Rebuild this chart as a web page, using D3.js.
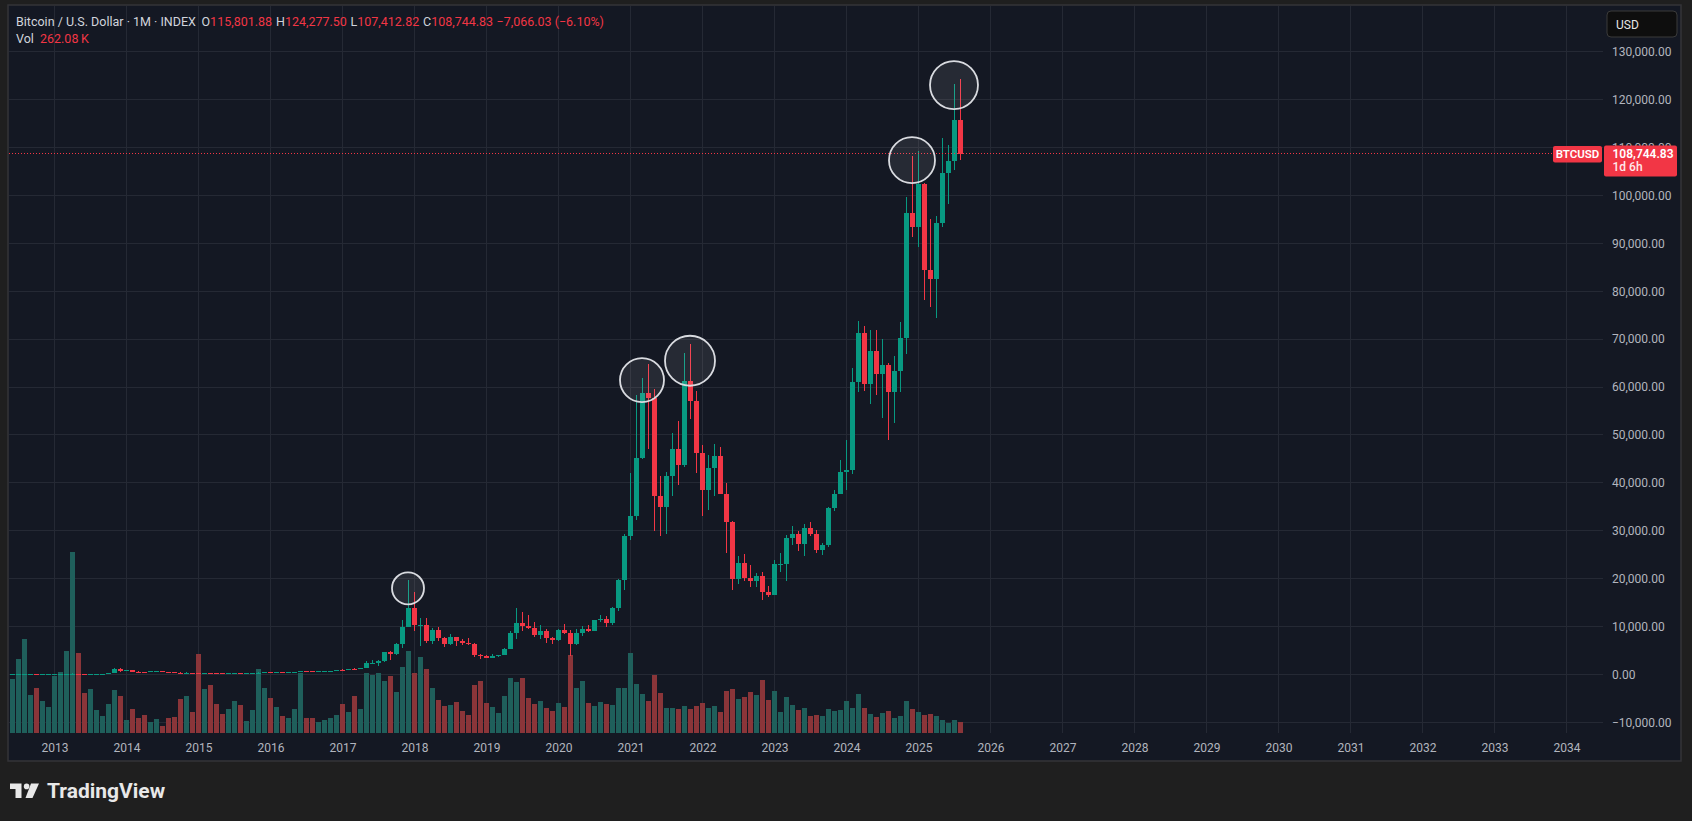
<!DOCTYPE html>
<html>
<head>
<meta charset="utf-8">
<script src="https://cdn.jsdelivr.net/npm/d3@7"></script>
<style>
html, body { margin: 0; padding: 0; background: #1f1f1f; }
svg { display: block; }
text { font-family: Roboto, "Noto Sans", sans-serif; }
</style>
</head>
<body>
<script>
// monthly candles, first bar is May 2012, last is Aug 2025
var firstBar = { year: 2012, month: 5 };

var opens = [
  4.9, 5.2, 6.7, 9.4, 10.2, 12.4, 11.2, 12.6,
  13.5, 20.4, 33.4, 93, 139, 129, 97, 106, 135, 141, 204, 1205,
  732, 815, 570, 458, 447, 628, 640, 586, 479, 388, 338, 378,
  320, 217, 254, 244, 236, 230, 263, 284, 230, 236, 314, 377,
  430, 368, 437, 416, 448, 531, 673, 624, 573, 609, 700, 742,
  964, 958, 1190, 1080, 1350, 2300, 2480, 2875, 4740, 4340, 6450, 9950,
  13880, 10230, 10330, 6930, 9240, 7500, 6400, 7730, 7020, 6630, 6370, 4040,
  3740, 3460, 3810, 4100, 5320, 8570, 10820, 10080, 9600, 8300, 9150, 7550,
  7190, 9350, 8540, 6420, 8630, 9450, 9140, 11350, 11650, 10780, 13800, 19700,
  28990, 33110, 45160, 58800, 57750, 37330, 35040, 41460, 47160, 43800, 61350, 57000,
  46200, 38490, 43180, 45540, 37700, 31800, 19940, 23300, 20050, 19430, 20490, 17170,
  16540, 23140, 23150, 28480, 29250, 27220, 30470, 29230, 25940, 26960, 34660, 37720,
  42280, 42580, 61130, 71290, 60640, 67490, 62680, 64620, 58970, 63330, 70210, 96400,
  93430, 102400, 84350, 82550, 94200, 104600, 107100, 115801.88
];

var highs = [
  5.2, 6.7, 9.7, 16.4, 12.8, 12.8, 12.9, 13.9,
  20.7, 33.4, 95.7, 266, 140, 130, 111, 140, 147, 218, 1240, 1237,
  985, 840, 715, 547, 633, 680, 660, 598, 502, 420, 458, 382,
  321, 265, 300, 260, 248, 268, 318, 285, 245, 335, 502, 469,
  461, 448, 443, 467, 549, 780, 703, 624, 616, 720, 755, 975,
  1153, 1214, 1350, 1350, 2760, 3000, 2930, 4770, 4980, 6470, 11400, 19666,
  17200, 11800, 11700, 9770, 9990, 7780, 8500, 7760, 7410, 7680, 6580, 4250,
  4100, 4200, 4140, 5600, 9090, 13880, 13130, 12320, 10950, 10370, 9510, 7750,
  9580, 10500, 9190, 9470, 10080, 10380, 11440, 12470, 12090, 14100, 19860, 29300,
  41950, 58350, 61790, 64900, 59500, 41330, 42320, 50500, 52920, 67000, 69000, 59100,
  47990, 45800, 48200, 47450, 40000, 31950, 24650, 25200, 22800, 21100, 21470, 18400,
  23960, 25250, 29200, 31050, 29850, 31400, 31800, 30200, 27480, 35000, 38450, 44750,
  48970, 64000, 73800, 72800, 71950, 71950, 70000, 65100, 66500, 73600, 99600, 108300,
  109350, 102500, 95100, 95800, 112000, 110500, 123200, 124277.5
];

var lows = [
  4.9, 5.2, 6.5, 7.1, 9.8, 10.1, 10.3, 12.5,
  13.3, 19.6, 33, 50, 77, 88, 65, 100, 117, 102, 200, 400,
  730, 400, 440, 340, 421, 525, 566, 440, 360, 275, 318, 302,
  152, 209, 237, 212, 227, 218, 253, 195, 225, 236, 307, 354,
  350, 366, 394, 414, 443, 528, 595, 472, 566, 606, 681, 740,
  751, 916, 891, 1070, 1350, 2120, 1830, 2690, 2970, 4110, 5510, 9950,
  9000, 6000, 6600, 6430, 7050, 5780, 6070, 5880, 6100, 6200, 3550, 3150,
  3360, 3390, 3730, 4100, 5320, 7450, 9070, 9400, 7730, 7300, 6520, 6430,
  6870, 8450, 3850, 6150, 8120, 8830, 8990, 10990, 9880, 10370, 13200, 17570,
  28130, 32300, 45000, 47000, 30000, 28800, 29280, 37330, 39600, 43300, 53250, 42000,
  33100, 34300, 37200, 37600, 25400, 17600, 18800, 19600, 18200, 18200, 15500, 16250,
  16500, 21400, 19600, 27000, 25850, 24800, 28850, 25300, 24900, 26550, 34100, 37600,
  38500, 41900, 59000, 59100, 56500, 58400, 53500, 49000, 52550, 58900, 66800, 91300,
  89200, 78200, 76700, 74500, 93300, 98200, 105200, 107412.82
];

var closes = [
  5.2, 6.7, 9.4, 10.2, 12.4, 11.2, 12.6, 13.5,
  20.4, 33.4, 93, 139, 129, 97, 106, 135, 141, 204, 1205, 732,
  815, 570, 458, 447, 628, 640, 586, 479, 388, 338, 378, 320,
  217, 254, 244, 236, 230, 263, 284, 230, 236, 314, 377, 430,
  368, 437, 416, 448, 531, 673, 624, 573, 609, 700, 742, 964,
  958, 1190, 1080, 1350, 2300, 2480, 2875, 4740, 4340, 6450, 9950, 13880,
  10230, 10330, 6930, 9240, 7500, 6400, 7730, 7020, 6630, 6370, 4040, 3740,
  3460, 3810, 4100, 5320, 8570, 10820, 10080, 9600, 8300, 9150, 7550, 7190,
  9350, 8540, 6420, 8630, 9450, 9140, 11350, 11650, 10780, 13800, 19700, 28990,
  33110, 45160, 58800, 57750, 37330, 35040, 41460, 47160, 43800, 61350, 57000, 46200,
  38490, 43180, 45540, 37700, 31800, 19940, 23300, 20050, 19430, 20490, 17170, 16540,
  23140, 23150, 28480, 29250, 27220, 30470, 29230, 25940, 26960, 34660, 37720, 42280,
  42580, 61130, 71290, 60640, 67490, 62680, 64620, 58970, 63330, 70210, 96400, 93430,
  102400, 84350, 82550, 94200, 104600, 107100, 115801.88, 108744.83
];

// volume in thousands
var volumes = [
  1145, 1290, 1770, 2250, 905, 1075, 760, 615,
  1360, 1455, 1960, 4340, 1915, 955, 1050, 545, 400, 690, 1025, 880,
  305, 570, 355, 425, 255, 330, 160, 355, 375, 810, 880, 495,
  1890, 1050, 1145, 690, 450, 570, 760, 665, 280, 545, 1530, 1075,
  835, 615, 400, 355, 570, 1435, 355, 355, 255, 305, 355, 425,
  690, 495, 880, 570, 1435, 1385, 1435, 1240, 1360, 975, 1575, 1960,
  1435, 1815, 1530, 1075, 785, 640, 665, 735, 520, 425, 1145, 1240,
  715, 625, 480, 890, 1320, 1225, 1320, 840, 695, 770, 600, 530,
  720, 625, 1870, 1080, 1250, 720, 650, 745, 695, 670, 1080, 1080,
  1920, 1175, 935, 770, 1390, 960, 600, 600, 575, 650, 575, 650,
  720, 600, 650, 505, 1010, 1055, 815, 865, 985, 910, 1270, 790,
  1010, 505, 865, 670, 550, 600, 410, 430, 410, 575, 530, 550,
  770, 600, 935, 600, 455, 385, 480, 530, 360, 410, 770, 575,
  505, 430, 455, 410, 310, 240, 310, 262.08
];

var yearTicks = [2013, 2014, 2015, 2016, 2017, 2018, 2019, 2020, 2021, 2022, 2023,
  2024, 2025, 2026, 2027, 2028, 2029, 2030, 2031, 2032, 2033, 2034];
var priceTicks = [-10000, 0, 10000, 20000, 30000, 40000, 50000, 60000, 70000,
  80000, 90000, 100000, 110000, 120000, 130000];

// highlighted tops: bar month, price at circle centre, radius
var markMonths = ["2017-12", "2021-03", "2021-11", "2024-12", "2025-07"];
var markPrices = [17970, 61440, 65480, 107350, 123030];
var markRadius = [16, 22, 25, 23, 24];

var lastPrice = 108744.83;

var W = 1692, H = 824;
var pane = { left: 8, top: 5, right: 1681, bottom: 761 };
var plotRight = 1603, plotBottom = 733;
var green = "#089981", red = "#f23645";
var volGreen = "#1f5f5b", volRed = "#8a3539";

function monthIndex(y, m) { return (y - 2013) * 12 + (m - 1); }

var bars = closes.map(function(c, i) {
  var k = firstBar.month - 1 + i;
  return {
    idx: monthIndex(firstBar.year + Math.floor(k / 12), (k % 12) + 1),
    o: opens[i], h: highs[i], l: lows[i], c: c, v: volumes[i]
  };
});

var x = d3.scaleLinear().domain([0, 252]).range([54.5, 1566.5]);
var y = d3.scaleLinear().domain([-10000, 130000]).range([722.3, 51.7]);
var yv = d3.scaleLinear().domain([0, d3.max(volumes)]).range([plotBottom, plotBottom - 181]);

var svg = d3.select("body").append("svg").attr("width", W).attr("height", H);

svg.append("rect").attr("width", W).attr("height", H).attr("fill", "#1f1f1f");
svg.append("rect").attr("x", 0).attr("y", 821).attr("width", W).attr("height", 3).attr("fill", "#ffffff");

svg.append("rect")
  .attr("x", pane.left).attr("y", pane.top)
  .attr("width", pane.right - pane.left).attr("height", pane.bottom - pane.top)
  .attr("fill", "#141823").attr("stroke", "#343438").attr("stroke-width", 1.5);

svg.append("clipPath").attr("id", "plot").append("rect")
  .attr("x", pane.left + 1).attr("y", pane.top)
  .attr("width", plotRight - pane.left - 1).attr("height", plotBottom - pane.top);

// grid
var grid = svg.append("g").attr("shape-rendering", "crispEdges");
grid.selectAll(".vg").data(yearTicks).enter().append("line")
  .attr("x1", function(d) { return x(monthIndex(d, 1)); })
  .attr("x2", function(d) { return x(monthIndex(d, 1)); })
  .attr("y1", pane.top + 1).attr("y2", plotBottom)
  .attr("stroke", "#252934");
grid.selectAll(".hg").data(priceTicks).enter().append("line")
  .attr("x1", pane.left + 1).attr("x2", plotRight)
  .attr("y1", function(d) { return y(d); })
  .attr("y2", function(d) { return y(d); })
  .attr("stroke", "#252934");

var plot = svg.append("g").attr("clip-path", "url(#plot)");

// volume
plot.append("g").attr("shape-rendering", "crispEdges")
  .selectAll("rect").data(bars).enter().append("rect")
  .attr("x", function(d) { return x(d.idx) - 2.5; })
  .attr("width", 5)
  .attr("y", function(d) { return yv(d.v); })
  .attr("height", function(d) { return plotBottom - yv(d.v); })
  .attr("fill", function(d) { return d.c >= d.o ? volGreen : volRed; });

// candles
var cg = plot.append("g").attr("shape-rendering", "crispEdges");
cg.selectAll("line").data(bars).enter().append("line")
  .attr("x1", function(d) { return x(d.idx); })
  .attr("x2", function(d) { return x(d.idx); })
  .attr("y1", function(d) { return y(d.h); })
  .attr("y2", function(d) { return y(d.l); })
  .attr("stroke", function(d) { return d.c >= d.o ? green : red; });
cg.selectAll("rect").data(bars).enter().append("rect")
  .attr("x", function(d) { return x(d.idx) - 2.5; })
  .attr("width", 5)
  .attr("y", function(d) { return y(Math.max(d.o, d.c)); })
  .attr("height", function(d) { return Math.max(1, Math.abs(y(d.o) - y(d.c))); })
  .attr("fill", function(d) { return d.c >= d.o ? green : red; });

// last price line
svg.append("line")
  .attr("x1", pane.left + 1).attr("x2", 1553)
  .attr("y1", y(lastPrice)).attr("y2", y(lastPrice))
  .attr("stroke", red).attr("stroke-width", 1).attr("stroke-dasharray", "1 2");

// circles on the tops
svg.append("g").selectAll("circle").data(markMonths).enter().append("circle")
  .attr("cx", function(d) { var p = d.split("-"); return x(monthIndex(+p[0], +p[1])) - 0.5; })
  .attr("cy", function(d, i) { return y(markPrices[i]); })
  .attr("r", function(d, i) { return markRadius[i]; })
  .attr("fill", "rgba(255,255,255,0.08)")
  .attr("stroke", "#d9dbe0").attr("stroke-width", 1.8);

// price axis
var yAxis = svg.append("g").attr("transform", "translate(1612,0)")
  .call(d3.axisRight(y).tickValues(priceTicks).tickSize(0).tickPadding(0).tickFormat(d3.format(",.2f")));
yAxis.select(".domain").remove();
yAxis.selectAll("text").attr("fill", "#b2b5be").style("font-size", "12px")
  .style("font-family", "Roboto, sans-serif");

// time axis
var xAxis = svg.append("g").attr("transform", "translate(0," + plotBottom + ")")
  .call(d3.axisBottom(x).tickValues(yearTicks.map(function(d) { return monthIndex(d, 1); }))
    .tickSize(0).tickPadding(10).tickFormat(function(d) { return String(2013 + d / 12); }));
xAxis.select(".domain").remove();
xAxis.selectAll("text").attr("fill", "#b2b5be").style("font-size", "12px")
  .style("font-family", "Roboto, sans-serif");

// legend
var lg = svg.append("g").style("font-size", "12.5px");
lg.append("text").attr("x", 16).attr("y", 26).attr("fill", "#d1d4dc")
  .text("Bitcoin / U.S. Dollar \u00b7 1M \u00b7 INDEX");
var ohlc = [["O", "115,801.88", 201.5], ["H", "124,277.50", 276], ["L", "107,412.82", 350.5],
  ["C", "108,744.83", 423]];
ohlc.forEach(function(o) {
  var t = lg.append("text").attr("x", o[2]).attr("y", 26).attr("fill", "#d1d4dc");
  t.append("tspan").text(o[0]);
  t.append("tspan").attr("fill", red).text(o[1]);
});
lg.append("text").attr("x", 496.5).attr("y", 26).attr("fill", red).text("\u22127,066.03 (\u22126.10%)");
lg.append("text").attr("x", 16).attr("y", 43).attr("fill", "#d1d4dc").text("Vol");
lg.append("text").attr("x", 40).attr("y", 43).attr("fill", red).text("262.08\u2009K");

// USD button
svg.append("rect").attr("x", 1607).attr("y", 11).attr("width", 70).attr("height", 26).attr("rx", 4)
  .attr("fill", "#0e0e0e").attr("stroke", "#3a3a3a");
svg.append("text").attr("x", 1616).attr("y", 28.7).attr("fill", "#e6e6e6")
  .style("font-size", "12px").text("USD");

// last price tags
var py = y(lastPrice);
svg.append("rect").attr("x", 1553).attr("y", py - 7.5).attr("width", 49).attr("height", 16.5)
  .attr("rx", 2).attr("fill", red);
svg.append("text").attr("x", 1577.5).attr("y", py + 4.5).attr("text-anchor", "middle")
  .attr("fill", "#ffffff").style("font-size", "11.5px").style("font-weight", "600").text("BTCUSD");
svg.append("rect").attr("x", 1604).attr("y", py - 8).attr("width", 73).attr("height", 31)
  .attr("rx", 2).attr("fill", red);
svg.append("text").attr("x", 1612.5).attr("y", py + 4.6).attr("fill", "#ffffff")
  .style("font-size", "12px").style("font-weight", "600").text(d3.format(",.2f")(lastPrice));
svg.append("text").attr("x", 1612.5).attr("y", py + 17.6).attr("fill", "#ffe9ea")
  .style("font-size", "12px").style("font-weight", "500").text("1d 6h");

// TradingView logo
var logo = svg.append("g").attr("fill", "#e8e8e8");
logo.append("path").attr("d", "M10,783.5 H21.5 V798 H15.5 V789 H10 Z");
logo.append("circle").attr("cx", 26.6).attr("cy", 786.4).attr("r", 2.8);
logo.append("path").attr("d", "M31,783.5 H39 L32.5,798 H25.5 Z");
logo.append("text").attr("x", 47).attr("y", 798)
  .style("font-size", "21px").style("font-weight", "700")
  .text("TradingView");
</script>
</body>
</html>
